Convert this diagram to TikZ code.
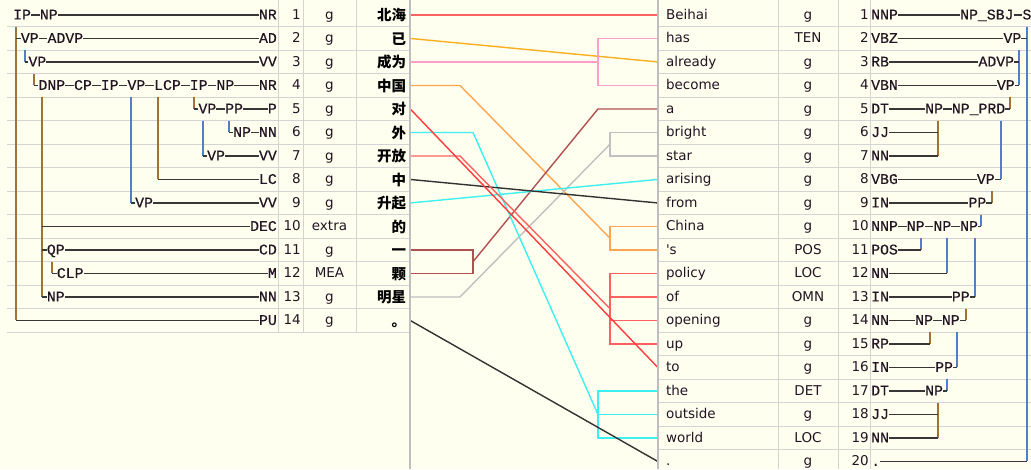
\documentclass[tikz,border=0pt]{standalone}
\usepackage{fontspec}
\setmainfont{DejaVu Sans}
\newfontfamily\cjkf{Noto Sans CJK SC}
\newfontfamily\monof{Liberation Mono}[FakeBold=0.4]
\definecolor{bg}{RGB}{255,255,240}
\definecolor{gridc}{RGB}{212,212,212}
\definecolor{sepc}{RGB}{190,190,190}
\definecolor{hlc}{RGB}{55,55,55}
\definecolor{vbc}{RGB}{80,125,195}
\definecolor{voc}{RGB}{160,115,55}
\definecolor{lred}{RGB}{255,96,96}
\definecolor{lredb}{RGB}{255,60,60}
\definecolor{lgold}{RGB}{250,175,30}
\definecolor{lpink}{RGB}{255,158,200}
\definecolor{lorng}{RGB}{255,165,80}
\definecolor{lcyan}{RGB}{60,240,240}
\definecolor{lbrown}{RGB}{176,80,80}
\definecolor{lgray}{RGB}{192,192,192}
\definecolor{ldark}{RGB}{50,50,50}
\definecolor{txt}{RGB}{35,20,35}
\newcommand\VL[4]{\coordinate (#1t) at (#2,{#3}); \coordinate (#1b) at (#2,{#4});
  \draw[vb] (#1t) -- (#1b); \draw[vo] ([xshift=1pt]#1t) -- ([xshift=1pt]#1b);}
\begin{document}
\begin{tikzpicture}[x=1pt,y=-1pt,
  declare function={ry(\i)=3.2+(\i-0.5)*23.5; rb(\i)=3.2+\i*23.5;},
  tl/.style={font=\monof\fontsize{14.8}{16}\selectfont, text=txt, inner sep=0pt, text height=9pt, text depth=0pt, anchor=west},
  tr/.style={tl, anchor=east},
  nm/.style={font=\fontsize{13.5}{15}\selectfont, text=txt, inner sep=0pt, text height=10pt, text depth=1.2pt, anchor=east},
  tg/.style={nm, anchor=center},
  zc/.style={font=\cjkf\bfseries\fontsize{14.5}{16}\selectfont, text=black, inner xsep=4pt, inner ysep=0pt, text width=46pt, align=right, text height=13pt, text depth=1pt},
  ec/.style={font=\fontsize{13.5}{15}\selectfont, text=txt, inner xsep=8pt, inner ysep=0pt, text width=104pt, align=left, text height=10pt, text depth=1.2pt},
  hl/.style={draw=hlc, line width=1.2pt},
  vb/.style={draw=vbc, line width=0.9pt},
  vo/.style={draw=voc, line width=1.1pt},
  gl/.style={draw=gridc, line width=1pt},
  sp/.style={draw=sepc, line width=2pt},
  lk/.style={line width=1.4pt}]
\useasboundingbox (0,0) rectangle (1031,469);
\fill[bg] (0,0) rectangle (1031,469);
% grid
\foreach \k in {1,...,14} \draw[gl] (7,{rb(\k)}) -- (410,{rb(\k)});
\foreach \k in {1,...,19} \draw[gl] (658,{rb(\k)}) -- (1031,{rb(\k)});
\foreach \x in {278,303,356} \draw[gl] (\x,0) -- (\x,{rb(14)});
\foreach \x in {778,838,870} \draw[gl] (\x,0) -- (\x,469);
% left columns
\foreach \i in {1,...,14} \node[nm] (n\i) at (301,{ry(\i)}) {\i};
\foreach \i/\t in {1/g,2/g,3/g,4/g,5/g,6/g,7/g,8/g,9/g,10/extra,11/g,12/MEA,13/g,14/g}
  \node[tg] (t\i) at (329.5,{ry(\i)}) {\t};
\foreach \i/\w in {1/北海,2/已,3/成为,4/中国,5/对,6/外,7/开放,8/中,9/升起,10/的,11/一,12/颗,13/明星,14/。}
  \node[zc] (z\i) at (383,{ry(\i)}) {\w};
% right columns
\foreach \i/\w in {1/Beihai,2/has,3/already,4/become,5/a,6/bright,7/star,8/arising,9/from,10/China,11/{\textquotesingle s},12/policy,13/of,14/opening,15/up,16/to,17/the,18/outside,19/world,20/.}
  \node[ec] (e\i) at (718,{ry(\i)}) {\w};
\foreach \i/\t in {1/g,2/TEN,3/g,4/g,5/g,6/g,7/g,8/g,9/g,10/g,11/POS,12/LOC,13/OMN,14/g,15/g,16/g,17/DET,18/g,19/LOC,20/g}
  \node[tg] (u\i) at (808,{ry(\i)}) {\t};
\foreach \i in {1,...,20} \node[nm] (m\i) at (869,{ry(\i)}) {\i};
% ---------- left tree
\node[tl] (a1) at (13,{ry(1)}) {IP};
\node[tl] (a1b) at (39.7,{ry(1)}) {NP};
\node[tr] (p1) at (277,{ry(1)}) {NR};
\draw[hl] (a1) -- (a1b); \draw[hl] (a1b) -- (p1);
\node[tl] (a2) at (20.7,{ry(2)}) {VP};
\node[tl] (a2b) at (47.4,{ry(2)}) {ADVP};
\node[tr] (p2) at (277,{ry(2)}) {AD};
\draw[hl] (a2) -- (a2b); \draw[hl] (a2b) -- (p2);
\node[tl] (a3) at (28.3,{ry(3)}) {VP};
\node[tr] (p3) at (277,{ry(3)}) {VV};
\draw[hl] (a3) -- (p3);
\node[tl] (a4) at (38.3,{ry(4)}) {DNP};
\node[tl] (a4b) at (73.9,{ry(4)}) {CP};
\node[tl] (a4c) at (100.6,{ry(4)}) {IP};
\node[tl] (a4d) at (127.3,{ry(4)}) {VP};
\node[tl] (a4e) at (154,{ry(4)}) {LCP};
\node[tl] (a4f) at (189.6,{ry(4)}) {IP};
\node[tl] (a4g) at (216.3,{ry(4)}) {NP};
\node[tr] (p4) at (277,{ry(4)}) {NR};
\draw[hl] (a4) -- (a4b) -- (a4c) -- (a4d) -- (a4e) -- (a4f) -- (a4g) -- (p4);
\node[tl] (a5) at (198.3,{ry(5)}) {VP};
\node[tl] (a5b) at (225,{ry(5)}) {PP};
\node[tr] (p5) at (277,{ry(5)}) {P};
\draw[hl] (a5) -- (a5b) -- (p5);
\node[tl] (a6) at (233,{ry(6)}) {NP};
\node[tr] (p6) at (277,{ry(6)}) {NN};
\draw[hl] (a6) -- (p6);
\node[tl] (a7) at (207,{ry(7)}) {VP};
\node[tr] (p7) at (277,{ry(7)}) {VV};
\draw[hl] (a7) -- (p7);
\node[tr] (p8) at (277,{ry(8)}) {LC};
\node[tl] (a9) at (135,{ry(9)}) {VP};
\node[tr] (p9) at (277,{ry(9)}) {VV};
\draw[hl] (a9) -- (p9);
\node[tr] (p10) at (277,{ry(10)}) {DEC};
\node[tl] (a11) at (46.7,{ry(11)}) {QP};
\node[tr] (p11) at (277,{ry(11)}) {CD};
\draw[hl] (a11) -- (p11);
\node[tl] (a12) at (56.7,{ry(12)}) {CLP};
\node[tr] (p12) at (277,{ry(12)}) {M};
\draw[hl] (a12) -- (p12);
\node[tl] (a13) at (46.7,{ry(13)}) {NP};
\node[tr] (p13) at (277,{ry(13)}) {NN};
\draw[hl] (a13) -- (p13);
\node[tr] (p14) at (277,{ry(14)}) {PU};
\VL{V1}{15.5}{rb(1)}{ry(14)}
\draw[hl] (V1t |- a2) -- (a2); \draw[hl] (V1b) -- (p14);
\VL{V2}{24.5}{rb(2)}{ry(3)} \draw[hl] (V2b) -- (a3);
\VL{V3}{33.5}{rb(3)}{ry(4)} \draw[hl] (V3b) -- (a4);
\VL{V4}{41.5}{rb(4)}{ry(13)}
\draw[hl] (V4t |- p10) -- (p10); \draw[hl] (V4t |- a11) -- (a11); \draw[hl] (V4b) -- (a13);
\VL{V5}{51.5}{rb(11)}{ry(12)} \draw[hl] (V5b) -- (a12);
\VL{V6}{130.5}{rb(4)}{ry(9)} \draw[hl] (V6b) -- (a9);
\VL{V7}{157.5}{rb(4)}{ry(8)} \draw[hl] (V7b) -- (p8);
\VL{V8}{193.5}{rb(4)}{ry(5)} \draw[hl] (V8b) -- (a5);
\VL{V9}{202.5}{rb(5)}{ry(7)} \draw[hl] (V9b) -- (a7);
\VL{V10}{228.5}{rb(5)}{ry(6)} \draw[hl] (V10b) -- (a6);
% ---------- right tree
\node[tl] (b1) at (871,{ry(1)}) {NNP};
\node[tl] (b1b) at (960,{ry(1)}) {NP\_SBJ};
\node[tl] (b1c) at (1022.3,{ry(1)}) {S};
\draw[hl] (b1) -- (b1b) -- (b1c);
\VL{W1}{1026.5}{rb(1)}{ry(20)}
\node[tl] (b2) at (871,{ry(2)}) {VBZ};
\node[tl] (b2b) at (1003.3,{ry(2)}) {VP};
\draw[hl] (b2) -- (b2b); \draw[hl] (b2b) -- (W1t |- b2b);
\VL{W2}{1018.5}{rb(2)}{ry(4)}
\node[tl] (b3) at (871,{ry(3)}) {RB};
\node[tl] (b3b) at (978.3,{ry(3)}) {ADVP};
\draw[hl] (b3) -- (b3b); \draw[hl] (b3b) -- (W2t |- b3b);
\node[tl] (b4) at (871,{ry(4)}) {VBN};
\node[tl] (b4b) at (996.7,{ry(4)}) {VP};
\draw[hl] (b4) -- (b4b); \draw[hl] (b4b) -- (W2b);
\VL{W3}{1009.5}{rb(4)}{ry(5)}
\node[tl] (b5) at (871,{ry(5)}) {DT};
\node[tl] (b5b) at (925,{ry(5)}) {NP};
\node[tl] (b5c) at (951.7,{ry(5)}) {NP\_PRD};
\draw[hl] (b5) -- (b5b) -- (b5c); \draw[hl] (b5c) -- (W3b);
\VL{W4}{937.5}{rb(5)}{ry(7)}
\VL{W5}{1000.5}{rb(5)}{ry(8)}
\node[tl] (b6) at (871,{ry(6)}) {JJ};
\draw[hl] (b6) -- (W4t |- b6);
\node[tl] (b7) at (871,{ry(7)}) {NN};
\draw[hl] (b7) -- (W4b);
\node[tl] (b8) at (871,{ry(8)}) {VBG};
\node[tl] (b8b) at (976.7,{ry(8)}) {VP};
\draw[hl] (b8) -- (b8b); \draw[hl] (b8b) -- (W5b);
\VL{W6}{991.5}{rb(8)}{ry(9)}
\node[tl] (b9) at (871,{ry(9)}) {IN};
\node[tl] (b9b) at (968.3,{ry(9)}) {PP};
\draw[hl] (b9) -- (b9b); \draw[hl] (b9b) -- (W6b);
\VL{W7}{980.5}{rb(9)}{ry(10)}
\node[tl] (b10) at (871,{ry(10)}) {NNP};
\node[tl] (b10b) at (906.6,{ry(10)}) {NP};
\node[tl] (b10c) at (933.3,{ry(10)}) {NP};
\node[tl] (b10d) at (960,{ry(10)}) {NP};
\draw[hl] (b10) -- (b10b) -- (b10c) -- (b10d); \draw[hl] (b10d) -- (W7b);
\VL{W8}{920.5}{rb(10)}{ry(11)}
\VL{W9}{946.5}{rb(10)}{ry(12)}
\VL{W10}{974.5}{rb(10)}{ry(13)}
\node[tl] (b11) at (871,{ry(11)}) {POS};
\draw[hl] (b11) -- (W8b);
\node[tl] (b12) at (871,{ry(12)}) {NN};
\draw[hl] (b12) -- (W9b);
\node[tl] (b13) at (871,{ry(13)}) {IN};
\node[tl] (b13b) at (951.7,{ry(13)}) {PP};
\draw[hl] (b13) -- (b13b); \draw[hl] (b13b) -- (W10b);
\VL{W11}{965.5}{rb(13)}{ry(14)}
\node[tl] (b14) at (871,{ry(14)}) {NN};
\node[tl] (b14b) at (915,{ry(14)}) {NP};
\node[tl] (b14c) at (941.7,{ry(14)}) {NP};
\draw[hl] (b14) -- (b14b) -- (b14c); \draw[hl] (b14c) -- (W11b);
\VL{W12}{929.5}{rb(14)}{ry(15)}
\VL{W13}{956.5}{rb(14)}{ry(16)}
\node[tl] (b15) at (871,{ry(15)}) {RP};
\draw[hl] (b15) -- (W12b);
\node[tl] (b16) at (871,{ry(16)}) {IN};
\node[tl] (b16b) at (935,{ry(16)}) {PP};
\draw[hl] (b16) -- (b16b); \draw[hl] (b16b) -- (W13b);
\VL{W14}{946.5}{rb(16)}{ry(17)}
\node[tl] (b17) at (871,{ry(17)}) {DT};
\node[tl] (b17b) at (925,{ry(17)}) {NP};
\draw[hl] (b17) -- (b17b); \draw[hl] (b17b) -- (W14b);
\VL{W15}{937.5}{rb(17)}{ry(19)}
\node[tl] (b18) at (871,{ry(18)}) {JJ};
\draw[hl] (b18) -- (W15t |- b18);
\node[tl] (b19) at (871,{ry(19)}) {NN};
\draw[hl] (b19) -- (W15b);
\node[tl] (b20) at (871,{ry(20)}) {.};
\draw[hl] (b20) -- (W1b);
% ---------- alignment links
\coordinate (pk) at (598,{ry(3)});
\coordinate (ok1) at (460,{ry(4)});
\coordinate (ok2) at (610,{rb(10)});
\coordinate (cy1) at (473,{ry(6)});
\coordinate (cy2) at (598,{ry(18)});
\coordinate (rd1) at (460,{ry(7)});
\coordinate (rd2) at (610,{rb(13)});
\coordinate (br1) at (473,{rb(11)});
\coordinate (br2) at (598,{ry(5)});
\coordinate (gy1) at (460,{ry(13)});
\coordinate (gy2) at (610,{rb(6)});
\draw[lk,lred] (z1.east) -- (e1.west);
\draw[lk,lgold] (z2.east) -- (e3.west);
\draw[lk,lpink] (z3.east) -- (pk);
\draw[lk,lpink] (e2.west) -| (pk);
\draw[lk,lpink] (e4.west) -| (pk);
\draw[lk,lorng] (z4.east) -- (ok1) -- (ok2);
\draw[lk,lorng] (e10.west) -| (ok2);
\draw[lk,lorng] (e11.west) -| (ok2);
\draw[lk,lgray] (z13.east) -- (gy1) -- (gy2);
\draw[lk,lgray] (e6.west) -| (gy2);
\draw[lk,lgray] (e7.west) -| (gy2);
\draw[lk,lbrown] (z11.east) -| (br1);
\draw[lk,lbrown] (z12.east) -| (br1);
\draw[lk,lbrown] (br1) -- (br2) -- (e5.west);
\draw[lk,lcyan] (z6.east) -- (cy1) -- (cy2);
\draw[lk,lcyan] (e17.west) -| (cy2);
\draw[lk,lcyan] (e18.west) -- (cy2);
\draw[lk,lcyan] (e19.west) -| (cy2);
\draw[lk,lcyan] (z9.east) -- (e8.west);
\draw[lk,ldark] (z8.east) -- (e9.west);
\draw[lk,lred] (z7.east) -- (rd1) -- (rd2);
\foreach \j in {12,13,14,15} \draw[lk,lred] (e\j.west) -| (rd2);
\draw[lk,lredb] (z5.east) -- (e16.west);
\draw[lk,ldark] (z14.east) -- (e20.west);
% separators
\draw[sp] (410,0) -- (410,469);
\draw[sp] (658,0) -- (658,469);
\end{tikzpicture}
\end{document}
